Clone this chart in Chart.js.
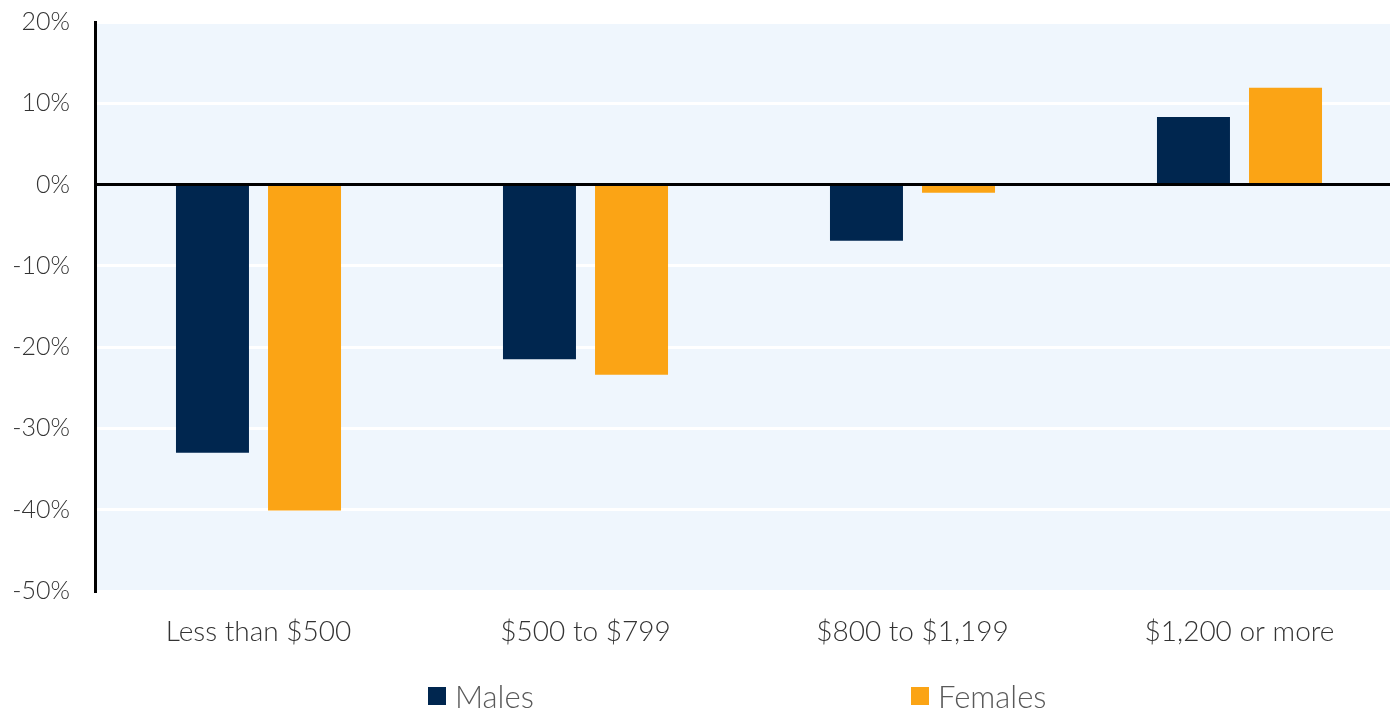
<!DOCTYPE html>
<html>
<head>
<meta charset="utf-8">
<script src="https://cdn.jsdelivr.net/npm/chart.js@4"></script>
<style>
  html, body { margin: 0; padding: 0; background: #fff; overflow: hidden; }
  #wrap { position: relative; width: 1390px; height: 711px; overflow: hidden; }
  #c { display: block; }
  #legend { position: absolute; left: 0; top: 677px; width: 1390px; height: 36px; font-family: "Lato", sans-serif; font-weight: 300; font-size: 31px; color: #595959; }
  .item { position: absolute; top: 0; display: flex; align-items: center; white-space: nowrap; }
  .box { width: 18px; height: 18px; margin-right: 9px; }
</style>
</head>
<body>
<div id="wrap">
  <canvas id="c" width="1403" height="711"></canvas>
  <div id="legend"></div>
</div>
<script>
const categories = ["Less than $500", "$500 to $799", "$800 to $1,199", "$1,200 or more"];
const seriesNames = ["Males", "Females"];
const males = [-33.0, -21.5, -6.9, 8.3];
const females = [-40.1, -23.4, -1.0, 11.9];
const tickValues = [-50, -40, -30, -20, -10, 0, 10, 20];
const colors = ["#00264F", "#FBA415"];

const bgPlugin = {
  id: 'plotBg',
  beforeDraw(chart) {
    const a = chart.chartArea, ctx = chart.ctx;
    ctx.save();
    ctx.fillStyle = '#EFF6FD';
    ctx.fillRect(a.left, a.top, a.right - a.left, a.bottom - a.top);
    ctx.restore();
  },
  afterDatasetsDraw(chart) {
    const a = chart.chartArea, ctx = chart.ctx;
    const y = chart.scales.y.getPixelForValue(0);
    ctx.save();
    ctx.strokeStyle = '#000000';
    ctx.lineWidth = 3;
    ctx.beginPath();
    ctx.moveTo(a.left, y);
    ctx.lineTo(a.right, y);
    ctx.stroke();
    ctx.restore();
  }
};

new Chart(document.getElementById('c'), {
  type: 'bar',
  data: {
    labels: categories,
    datasets: [
      { label: seriesNames[0], data: males, backgroundColor: colors[0] },
      { label: seriesNames[1], data: females, backgroundColor: colors[1] }
    ]
  },
  options: {
    responsive: false,
    animation: false,
    events: [],
    layout: { padding: { top: 22, right: 0, bottom: 60, left: 0 } },
    datasets: { bar: { categoryPercentage: 0.563, barPercentage: 0.793 } },
    plugins: { legend: { display: false }, tooltip: { enabled: false } },
    scales: {
      x: {
        grid: { display: false },
        border: { display: false },
        ticks: { padding: 16, color: '#333333', font: { family: 'Lato', size: 28, weight: 300 } },
        afterFit(s) { s.height = 60; s.paddingLeft = 0; s.paddingRight = 0; }
      },
      y: {
        min: -50, max: 20,
        afterBuildTicks(s) { s.ticks = tickValues.map(v => ({ value: v })); },
        afterFit(s) { s.width = 95; s.paddingTop = 0; s.paddingBottom = 0; },
        border: { display: true, color: '#000000', width: 3, z: 2 },
        grid: {
          drawTicks: false,
          color: c => c.tick && c.tick.value === 0 ? 'rgba(0,0,0,0)' : '#FFFFFF',
          lineWidth: 3
        },
        ticks: {
          padding: 25,
          color: '#333333',
          font: { family: 'Lato', size: 25, weight: 300 },
          callback: v => v + '%'
        }
      }
    }
  },
  plugins: [bgPlugin]
});

const legend = document.getElementById('legend');
const legendLeft = [428, 911];
seriesNames.forEach((n, i) => {
  const it = document.createElement('div');
  it.className = 'item';
  it.style.left = legendLeft[i] + 'px';
  const b = document.createElement('span');
  b.className = 'box';
  b.style.background = colors[i];
  const t = document.createElement('span');
  t.textContent = n;
  it.appendChild(b); it.appendChild(t);
  legend.appendChild(it);
});
</script>
</body>
</html>
